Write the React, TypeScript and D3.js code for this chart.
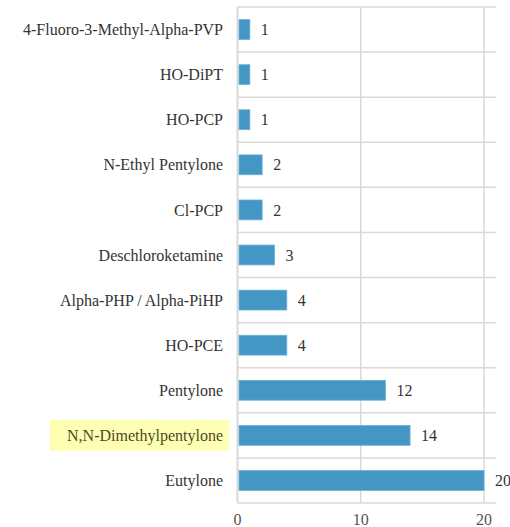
import React from 'react';
import * as d3 from 'd3';

// chart data, top to bottom
const substances = [
  '4-Fluoro-3-Methyl-Alpha-PVP',
  'HO-DiPT',
  'HO-PCP',
  'N-Ethyl Pentylone',
  'Cl-PCP',
  'Deschloroketamine',
  'Alpha-PHP / Alpha-PiHP',
  'HO-PCE',
  'Pentylone',
  'N,N-Dimethylpentylone',
  'Eutylone',
];
const counts = [1, 1, 1, 2, 2, 3, 4, 4, 12, 14, 20];
const xTicks = [0, 10, 20];
const highlighted = ['N,N-Dimethylpentylone'];

const W = 510;
const H = 527;
const margin = { top: 7, left: 237.5, bottom: 24 };
const plotRight = 496;

const App = () => {
  const x = d3
    .scaleLinear()
    .domain([0, 20])
    .range([margin.left, 484]);

  const y = d3
    .scaleBand<string>()
    .domain(substances)
    .range([margin.top, H - margin.bottom])
    .paddingInner(0.56)
    .paddingOuter(0.28);

  const step = y.step();
  const bandEdges = d3.range(substances.length + 1).map((i) => margin.top + i * step);

  const font = "'Liberation Serif', 'DejaVu Serif', serif";
  const grid = '#d9d9d9';

  return (
    <div style={{ position: 'absolute', left: 0, top: 0 }}>
      <svg width={W} height={H} style={{ display: 'block', background: 'white', fontFamily: font }}>
        {/* horizontal grid at category boundaries */}
        {bandEdges.map((yy, i) => (
          <line key={'h' + i} x1={margin.left} x2={plotRight} y1={yy} y2={yy} stroke={grid} strokeWidth={1.5} />
        ))}
        {/* vertical grid */}
        {xTicks.map((t) => (
          <line key={'v' + t} x1={x(t)} x2={x(t)} y1={margin.top} y2={bandEdges[bandEdges.length - 1]} stroke={grid} strokeWidth={t === 0 ? 2 : 1.5} />
        ))}

        {/* highlight box behind a label */}
        {substances.map((s) =>
          highlighted.includes(s) ? (
            <rect key={'hl' + s} x={50} y={(y(s) as number) + y.bandwidth() / 2 - 15.5} width={179} height={31} fill="#ffffb3" />
          ) : null
        )}

        {/* bars */}
        {substances.map((s, i) => (
          <rect
            key={'b' + s}
            x={x(0) + 1.5}
            y={y(s)}
            width={x(counts[i]) - x(0) - 1.5}
            height={y.bandwidth()}
            fill="#4497c5"
            stroke="#6aaed6"
            strokeWidth={0.8}
          />
        ))}

        {/* category labels */}
        {substances.map((s) => (
          <text
            key={'l' + s}
            x={223}
            y={(y(s) as number) + y.bandwidth() / 2}
            dy="0.35em"
            textAnchor="end"
            style={{ fontFamily: font, fontSize: 16 }}
            fill={highlighted.includes(s) ? '#4a4a2a' : '#333'}
          >
            {s}
          </text>
        ))}

        {/* value labels */}
        {substances.map((s, i) => (
          <text
            key={'v' + s}
            x={x(counts[i]) + 11}
            y={(y(s) as number) + y.bandwidth() / 2}
            dy="0.35em"
            style={{ fontFamily: font, fontSize: 16 }}
            fill="#333"
          >
            {counts[i]}
          </text>
        ))}

        {/* x tick labels */}
        {xTicks.map((t) => (
          <text key={'t' + t} x={x(t)} y={525} textAnchor="middle" style={{ fontFamily: font, fontSize: 16 }} fill="#555">
            {t}
          </text>
        ))}
      </svg>
    </div>
  );
};

export default App;
